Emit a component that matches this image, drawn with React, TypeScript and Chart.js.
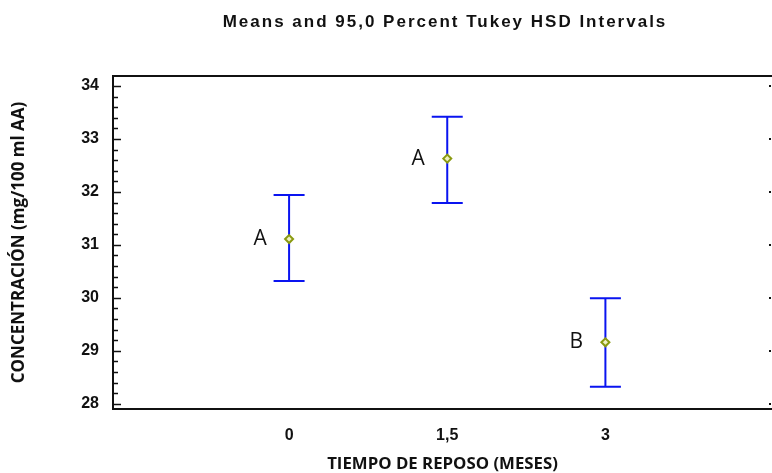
import React, { useEffect, useRef } from "react";
import { Chart, registerables } from "chart.js";

Chart.register(...registerables);

const categories = [0, 1.5, 3];
const categoryLabels = ["0", "1,5", "3"];
const means = [31.11, 32.63, 29.16];
const lowerLimits = [30.32, 31.79, 28.32];
const upperLimits = [31.94, 33.42, 29.99];
const groupLetters = ["A", "A", "B"];
const yTicks = [28, 29, 30, 31, 32, 33, 34];

const TITLE = "Means and 95,0 Percent Tukey HSD Intervals";
const X_TITLE = "TIEMPO DE REPOSO (MESES)";
const Y_TITLE = "CONCENTRACIÓN (mg/100 ml AA)";

const decorPlugin = {
  id: "decor",
  beforeDatasetsDraw(chart: any) {
    const { ctx, chartArea, scales } = chart;
    const x = scales.x;
    const y = scales.y;
    ctx.save();
    ctx.strokeStyle = "#111";
    ctx.lineWidth = 2;
    ctx.beginPath();
    ctx.moveTo(chartArea.left, chartArea.top);
    ctx.lineTo(chart.width, chartArea.top);
    ctx.stroke();
    ctx.lineWidth = 1.5;
    for (let v = 28; v <= 34.001; v += 0.2) {
      const py = Math.round(y.getPixelForValue(v)) + 0.5;
      const major = Math.abs(v - Math.round(v)) < 0.01;
      ctx.beginPath();
      ctx.moveTo(chartArea.left, py);
      ctx.lineTo(chartArea.left + (major ? 8 : 5), py);
      ctx.stroke();
    }
    ctx.fillStyle = "#111";
    for (const v of yTicks) {
      const py = Math.round(y.getPixelForValue(v));
      ctx.fillRect(chart.width - 3, py - 1, 2, 2);
    }
    ctx.strokeStyle = "#0a14f0";
    ctx.lineWidth = 2;
    categories.forEach((c, i) => {
      const px = x.getPixelForValue(c);
      const pl = y.getPixelForValue(lowerLimits[i]);
      const pu = y.getPixelForValue(upperLimits[i]);
      ctx.beginPath();
      ctx.moveTo(px, pl);
      ctx.lineTo(px, pu);
      ctx.moveTo(px - 15.5, pu);
      ctx.lineTo(px + 15.5, pu);
      ctx.moveTo(px - 15.5, pl);
      ctx.lineTo(px + 15.5, pl);
      ctx.stroke();
    });
    ctx.fillStyle = "#111";
    ctx.font = "21px 'Open Sans'";
    ctx.textAlign = "center";
    ctx.textBaseline = "middle";
    categories.forEach((c, i) => {
      const px = x.getPixelForValue(c);
      const py = y.getPixelForValue(means[i]);
      ctx.fillText(groupLetters[i], px - 29, py);
    });
    ctx.font = "bold 17px 'Liberation Sans'";
    (ctx as any).letterSpacing = "2px";
    ctx.fillText(TITLE, 445, 22);
    ctx.restore();
  },
};

export default function App() {
  const ref = useRef<HTMLCanvasElement>(null);
  useEffect(() => {
    document.body.style.margin = "0";
    const chart = new Chart(ref.current!, {
      type: "scatter",
      data: {
        datasets: [
          {
            data: categories.map((c, i) => ({ x: c, y: means[i] })),
            pointStyle: "rectRot",
            pointRadius: 4,
            borderColor: "#8a9a10",
            backgroundColor: "#eef0c0",
            borderWidth: 2,
          },
        ],
      },
      options: {
        responsive: false,
        animation: false,
        layout: { autoPadding: false, padding: { top: 76, right: 0, left: 0, bottom: 0 } },
        plugins: { legend: { display: false }, tooltip: { enabled: false } },
        scales: {
          x: {
            type: "linear",
            min: -1.67,
            max: 4.58,
            afterBuildTicks: (s: any) => {
              s.ticks = categories.map((v) => ({ value: v }));
            },
            afterFit: (s: any) => {
              s.height = 64;
            },
            grid: { display: false },
            border: { display: true, color: "#111", width: 2 },
            ticks: {
              padding: 9,
              color: "#111",
              font: { family: "'Liberation Sans'", size: 16, weight: "bold" },
              callback: (v: any) => {
                const i = categories.indexOf(Number(v));
                return i >= 0 ? categoryLabels[i] : "";
              },
            },
            title: {
              display: true,
              text: X_TITLE,
              color: "#111",
              font: { family: "'Open Sans'", size: 16.8, weight: "bold", lineHeight: 1 },
              padding: { top: 0, bottom: 0 },
            },
          },
          y: {
            type: "linear",
            min: 27.9,
            max: 34.19,
            afterBuildTicks: (s: any) => {
              s.ticks = yTicks.map((v) => ({ value: v }));
            },
            afterFit: (s: any) => {
              s.width = 113;
            },
            grid: { display: false },
            border: { display: true, color: "#111", width: 2 },
            ticks: {
              padding: 6,
              color: "#111",
              font: { family: "'Liberation Sans'", size: 16, weight: "bold" },
            },
            title: {
              display: true,
              text: Y_TITLE,
              color: "#111",
              font: { family: "'Open Sans'", size: 17, weight: "bold" },
              padding: { top: 9, bottom: 0 },
            },
          },
        },
      },
      plugins: [decorPlugin],
    });
    return () => chart.destroy();
  }, []);
  return (
    <div style={{ width: 772, height: 473, background: "#fff" }}>
      <canvas ref={ref} width={772} height={473} style={{ display: "block" }} />
    </div>
  );
}
